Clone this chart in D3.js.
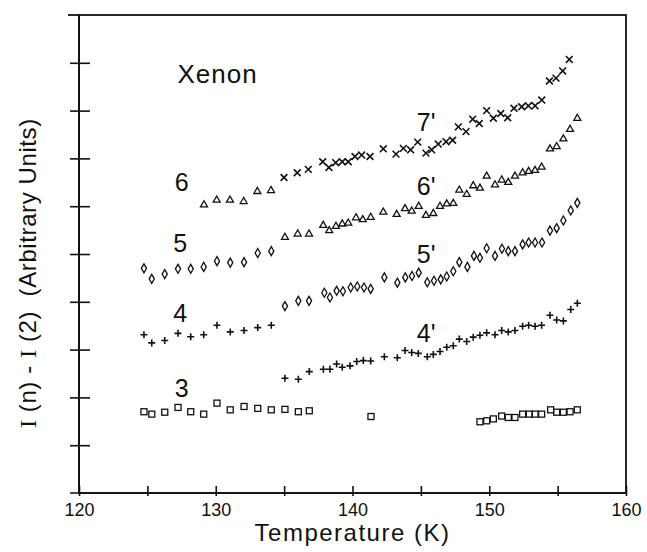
<!DOCTYPE html>
<html><head><meta charset="utf-8">
<script src="https://cdn.jsdelivr.net/npm/d3@7"></script>
<style>body{margin:0;background:#fff;position:relative}svg{display:block}#frameLayer{position:absolute;left:0;top:0}text{font-family:"Liberation Sans",Arial,sans-serif;fill:#111}</style>
</head><body>
<script>
// x ticks
const xTicks = [120,125,130,135,140,145,150,155,160];
const xTickLabels = ["120","","130","","140","","150","","160"];
const yTicks = [0,1,2,3,4,5,6,7,8,9,10];

// series "3" squares
const sq = [[124.75,1.70],[125.32,1.65],[126.27,1.69],[127.24,1.79],[128.17,1.70],[129.12,1.65],[130.09,1.88],[131.06,1.74],[132.07,1.81],[133.07,1.77],[134.06,1.74],[135.06,1.75],[136.04,1.70],[136.84,1.72],
 [141.35,1.60],
 [149.32,1.49],[149.81,1.51],[150.30,1.55],[150.91,1.61],[151.39,1.58],[151.88,1.58],[152.44,1.65],[152.93,1.65],[153.35,1.65],[153.83,1.65],[154.49,1.74],[154.93,1.69],[155.42,1.69],[155.91,1.70],[156.44,1.74]];
// plus markers (4 and 4')
const plus = [[124.75,3.31],[125.32,3.14],[126.27,3.19],[127.24,3.34],[128.17,3.27],[129.12,3.31],[130.09,3.51],[131.06,3.37],[132.07,3.40],[133.07,3.46],[134.06,3.51],
 [135.06,2.40],[136.04,2.38],[136.84,2.54],[137.87,2.59],[138.35,2.59],[138.84,2.70],[139.25,2.63],[139.82,2.66],[140.31,2.75],[140.79,2.77],[141.33,2.76],[142.33,2.85],[143.28,2.83],[143.84,2.98],[144.33,2.94],[144.81,2.92],[145.47,2.85],[145.91,2.90],[146.40,2.96],[146.89,3.05],[147.37,3.08],[147.81,3.22],[148.35,3.17],[148.83,3.26],[149.32,3.30],[149.81,3.35],[150.42,3.31],[150.91,3.40],[151.39,3.37],[151.88,3.40],[152.44,3.49],[152.88,3.51],[153.35,3.49],[153.83,3.51],[154.44,3.72],[154.93,3.62],[155.42,3.60],[155.96,3.84],[156.44,3.97]];
// diamonds (5 and 5')
const diam = [[124.75,4.70],[125.32,4.48],[126.27,4.58],[127.24,4.69],[128.17,4.69],[129.12,4.73],[130.09,4.85],[131.06,4.82],[132.07,4.83],[133.07,5.02],[134.06,5.06],
 [135.06,3.91],[136.04,4.02],[136.82,4.02],[137.94,4.19],[138.35,4.09],[138.84,4.23],[139.30,4.22],[139.87,4.30],[140.35,4.32],[140.84,4.30],[141.33,4.27],[142.33,4.51],[143.28,4.40],[143.86,4.51],[144.35,4.54],[144.84,4.61],[145.47,4.41],[145.96,4.44],[146.45,4.47],[146.89,4.53],[147.37,4.64],[147.81,4.83],[148.40,4.73],[148.88,4.96],[149.32,4.92],[149.81,5.12],[150.42,4.96],[150.93,5.11],[151.39,5.06],[151.88,5.06],[152.44,5.20],[152.88,5.24],[153.35,5.24],[153.86,5.24],[154.44,5.49],[154.93,5.54],[155.42,5.70],[155.96,5.91],[156.44,6.07]];
// triangles (6 and 6')
const tri = [[129.14,6.04],[130.07,6.14],[131.04,6.14],[132.04,6.11],[133.04,6.32],[134.04,6.34],
 [135.06,5.36],[135.99,5.43],[136.82,5.43],[137.86,5.61],[138.30,5.50],[138.79,5.59],[139.25,5.64],[139.69,5.66],[140.26,5.77],[140.75,5.73],[141.33,5.78],[142.25,5.89],[143.23,5.84],[143.84,5.96],[144.33,5.91],[144.84,6.01],[145.37,5.82],[145.91,5.86],[146.40,6.01],[146.89,6.06],[147.37,6.07],[147.81,6.35],[148.35,6.26],[148.83,6.44],[149.32,6.39],[149.81,6.64],[150.42,6.46],[150.91,6.56],[151.39,6.51],[151.88,6.64],[152.44,6.71],[152.88,6.74],[153.35,6.76],[153.83,6.83],[154.44,7.21],[154.93,7.26],[155.42,7.42],[155.91,7.62],[156.44,7.85]];
// crosses (7')
const cross = [[134.99,6.60],[135.96,6.70],[136.77,6.77],[137.82,6.93],[138.28,6.81],[138.77,6.91],[139.25,6.93],[139.69,6.93],[140.18,7.04],[140.67,7.07],[141.28,7.04],[142.25,7.20],[143.18,7.09],[143.72,7.21],[144.25,7.18],[144.77,7.34],[145.37,7.11],[145.79,7.18],[146.27,7.30],[146.84,7.35],[147.32,7.38],[147.74,7.66],[148.30,7.56],[148.79,7.82],[149.27,7.73],[149.81,8.00],[150.30,7.84],[150.84,7.94],[151.35,7.85],[151.81,8.05],[152.37,8.08],[152.86,8.10],[153.35,8.10],[153.84,8.22],[154.40,8.62],[154.88,8.68],[155.37,8.83],[155.85,9.07]];

const labels = [["6",127.0,6.32],["5",126.9,5.04],["4",126.9,3.58],["3",127.0,2.01],["7'",144.7,7.57],["6'",144.7,6.23],["5'",144.7,4.81],["4'",144.7,3.16]];

const W=647,H=552;
const x = d3.scaleLinear().domain([120,160]).range([79,626]);
const y = d3.scaleLinear().domain([0,10]).range([493,15]);
const svg = d3.select("body").append("svg").attr("width",W).attr("height",H);

// axes
const xAxis = d3.axisBottom(x).tickValues(xTicks).tickFormat((d,i)=>xTickLabels[i]).tickSize(0).tickPadding(10);
const gx = svg.append("g").attr("transform",`translate(0,${y(0)})`).call(xAxis);
gx.select(".domain").remove();
gx.append("line").attr("x1",x(120)-9).attr("x2",x(160)).attr("stroke","#111").attr("stroke-width",1.6);
gx.selectAll(".tick").append("line").attr("y1",-7).attr("y2",3).attr("stroke","#111").attr("stroke-width",1.6);
gx.selectAll(".tick text").attr("font-size",18).attr("fill","#111").attr("font-family","Liberation Sans, Arial, sans-serif");

const yAxis = d3.axisLeft(y).tickValues(yTicks).tickFormat(()=> "").tickSize(0);
const gy = svg.append("g").attr("transform",`translate(${x(120)},0)`).call(yAxis);
gy.select(".domain").remove();
gy.append("line").attr("y1",y(0)).attr("y2",y(10)).attr("stroke","#111").attr("stroke-width",1.8);
gy.selectAll(".tick").filter(d=>d>0&&d<10).append("line").attr("x1",-9).attr("x2",11).attr("stroke","#111").attr("stroke-width",1.6);

// markers
const mk = svg.append("g").attr("fill","none").attr("stroke","#111").attr("stroke-width",1.3);
mk.selectAll(".sq").data(sq).join("rect").attr("x",d=>x(d[0])-3).attr("y",d=>y(d[1])-3).attr("width",6).attr("height",6);
mk.selectAll(".pl").data(plus).join("path").attr("d",d=>{const cx=x(d[0]),cy=y(d[1]);return `M${cx-3.5},${cy}H${cx+3.5}M${cx},${cy-3.5}V${cy+3.5}`;}).attr("stroke-width",1.6);
mk.selectAll(".di").data(diam).join("path").attr("d",d=>{const cx=x(d[0]),cy=y(d[1]);return `M${cx},${cy-4.5}L${cx+2.6},${cy}L${cx},${cy+4.5}L${cx-2.6},${cy}Z`;});
mk.selectAll(".tr").data(tri).join("path").attr("d",d=>{const cx=x(d[0]),cy=y(d[1]);return `M${cx},${cy-3.5}L${cx+3.5},${cy+2.6}L${cx-3.5},${cy+2.6}Z`;});
mk.selectAll(".cr").data(cross).join("path").attr("d",d=>{const cx=x(d[0]),cy=y(d[1]);return `M${cx-3.4},${cy-3.4}L${cx+3.4},${cy+3.4}M${cx+3.4},${cy-3.4}L${cx-3.4},${cy+3.4}`;}).attr("stroke-width",1.6);

// labels
svg.selectAll(".lab").data(labels).join("text").attr("x",d=>x(d[1])).attr("y",d=>y(d[2])).attr("font-size",25).text(d=>d[0]);
svg.append("text").attr("x",x(127.2)).attr("y",y(8.58)).attr("font-size",26).attr("letter-spacing",1).text("Xenon");

svg.append("text").attr("x",x(140)).attr("y",541).attr("text-anchor","middle").attr("font-size",24).attr("letter-spacing",1.5).text("Temperature (K)");

const yl = svg.append("text").attr("transform",`translate(36,${y(4.6)}) rotate(-90)`).attr("text-anchor","middle").attr("font-size",24).attr("letter-spacing",0.6);
yl.append("tspan").attr("font-family","Liberation Serif, serif").text("I");
yl.append("tspan").text(" (n) - ");
yl.append("tspan").attr("font-family","Liberation Serif, serif").text("I");
yl.append("tspan").text(" (2)\u00a0\u00a0(Arbitrary Units)");

// frame (top and right borders) in a separate overlay svg layer
const frameLayer = d3.select("body").append("svg").attr("id","frameLayer").attr("width",W).attr("height",H);
frameLayer.append("rect")
  .attr("x",x(120)).attr("y",y(10)).attr("width",x(160)-x(120)).attr("height",y(0)-y(10))
  .attr("fill","none").attr("stroke","#111").attr("stroke-width",1.8);
frameLayer.append("line").attr("x1",x(120)-11).attr("x2",x(120)).attr("y1",y(10)).attr("y2",y(10))
  .attr("stroke","#111").attr("stroke-width",1.8);
</script>
</body></html>
